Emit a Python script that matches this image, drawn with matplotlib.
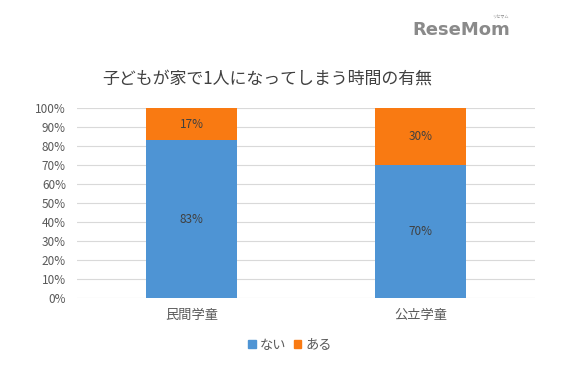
import matplotlib
matplotlib.use("Agg")
import matplotlib.pyplot as plt
from matplotlib.patches import Patch

plt.rcParams['font.family'] = ['Noto Sans CJK JP', 'DejaVu Sans']

categories = ["民間学童", "公立学童"]
nai = [83, 70]
aru = [17, 30]
series_names = ["ない", "ある"]
yticks = [0, 10, 20, 30, 40, 50, 60, 70, 80, 90, 100]
title = "子どもが家で1人になってしまう時間の有無"

c_blue = "#4E94D4"
c_orange = "#F97A12"
txt = "#595959"

fig = plt.figure(figsize=(5.64, 3.73), dpi=100)
ax = fig.add_axes([77/564, 1-298/373, (535-77)/564, (298-108)/373])

x = list(range(len(categories)))
b1 = ax.bar(x, nai, width=0.4, color=c_blue, zorder=3)
b2 = ax.bar(x, aru, width=0.4, bottom=nai, color=c_orange, zorder=3)
for i in x:
    ax.text(i, nai[i]/2, f"{nai[i]}%", ha='center', va='center', fontsize=8.5, color="#404040", zorder=4)
    ax.text(i, nai[i] + aru[i]/2, f"{aru[i]}%", ha='center', va='center', fontsize=8.5, color="#404040", zorder=4)

ax.set_xlim(-0.5, 1.5)
ax.set_ylim(0, 100)
ax.set_yticks(yticks)
ax.set_yticklabels([f"{v}%" for v in yticks], fontsize=8.5, color=txt)
ax.set_xticks(x)
ax.set_xticklabels(categories, fontsize=9.5, color=txt)
ax.tick_params(axis='both', length=0)
ax.tick_params(axis='y', pad=8)
ax.tick_params(axis='x', pad=8)
ax.yaxis.grid(True, color="#D9D9D9", linewidth=0.8, zorder=0)
for s in ax.spines.values():
    s.set_visible(False)

fig.text(267/564, 1-79/373, title, ha='center', va='center', fontsize=12.2, color="#404040")

handles = [Patch(color=c_blue, label=series_names[0]), Patch(color=c_orange, label=series_names[1])]
leg = fig.legend(handles=handles, loc='center', bbox_to_anchor=(290/564, 1-345/373), ncol=2,
                 frameon=False, fontsize=9.5, handlelength=0.55, handleheight=0.55,
                 handletextpad=0.3, columnspacing=0.6)
for t in leg.get_texts():
    t.set_color(txt)

fig.text(510/564, 1-30/373, "ReseMom", ha='right', va='center', fontsize=13,
         fontweight='bold', color="#8A8A8A", family=['DejaVu Sans'])
fig.text(500/564, 1-17/373, "リセマム", ha='center', va='center', fontsize=3, color="#8A8A8A")

fig.savefig("out.png", dpi=100)
